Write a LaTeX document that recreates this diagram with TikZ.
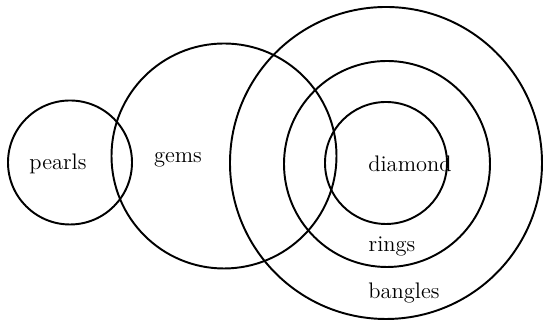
\documentclass[tikz,border=0pt]{standalone}
\usetikzlibrary{positioning}

\begin{document}
\begin{tikzpicture}[
  font=\fontsize{12.8}{15}\selectfont,
  set/.style={draw, circle, line width=1.1pt, inner sep=0pt},
  lbl/.style={inner sep=1pt},
]
\useasboundingbox (0,0) rectangle (10.9,6.48);

% --- sets ---
\node[set, minimum size=2.48cm] (pearls) at (1.40,3.23) {};
\node[set, minimum size=4.50cm] (gems) at (4.48,3.36) {};
\node[set, minimum size=6.24cm] (bangles) at (7.72,3.22) {};
\node[set, minimum size=4.12cm] (rings) at (7.74,3.20) {};
\node[set, minimum size=2.44cm] (diamond) at (7.72,3.22) {};

% --- labels ---
\node[lbl] (pearlstxt) at (1.16,3.20) {pearls};
\node[lbl] (gemstxt) at (3.56,3.28) {gems};
\node[lbl] (diamondtxt) at (8.20,3.20) {diamond};
\node[lbl] (ringstxt) at (7.84,1.56) {rings};
\node[lbl] (banglestxt) at (8.08,0.62) {bangles};

\end{tikzpicture}
\end{document}
